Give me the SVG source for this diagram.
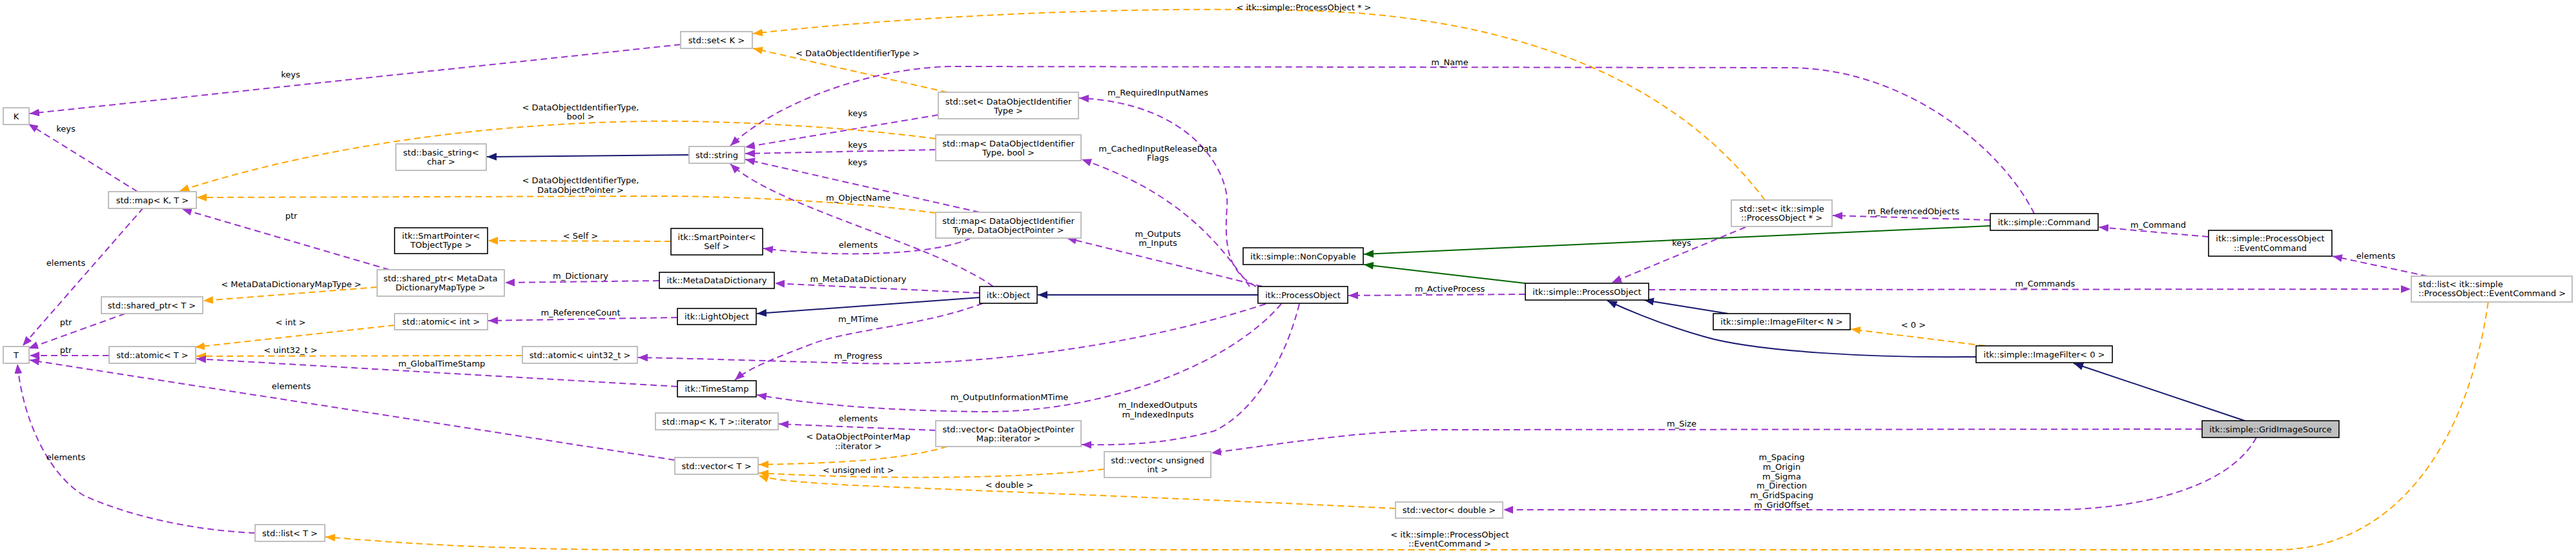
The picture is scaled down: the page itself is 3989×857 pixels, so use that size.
<svg xmlns="http://www.w3.org/2000/svg" width="3989" height="857" viewBox="0 0 3989 857">
<style>
text{font-family:"DejaVu Sans","Liberation Sans",sans-serif;font-size:13px;fill:#000;text-anchor:middle}
.g rect{fill:#fff;stroke:#bfbfbf;stroke-width:2}
.b rect{fill:#fff;stroke:#000;stroke-width:1.6}
.sel rect{fill:#bfbfbf}
.l{text-anchor:start}
#edges path{fill:none;stroke-width:2}
.p{stroke:#9a32cd;stroke-dasharray:10,6;marker-end:url(#ap)}
.o{stroke:#ffa500;stroke-dasharray:10,6;marker-end:url(#ao)}
.n{stroke:#191970;marker-end:url(#an)}
.v{stroke:#006400;marker-end:url(#ag)}
</style>
<defs>
<marker id="ap" markerUnits="userSpaceOnUse" markerWidth="16" markerHeight="12" refX="15" refY="6" orient="auto" viewBox="0 0 16 12"><path d="M0,0 L15,6 L0,12 z" fill="#9a32cd"/></marker>
<marker id="ao" markerUnits="userSpaceOnUse" markerWidth="16" markerHeight="12" refX="15" refY="6" orient="auto" viewBox="0 0 16 12"><path d="M0,0 L15,6 L0,12 z" fill="#ffa500"/></marker>
<marker id="an" markerUnits="userSpaceOnUse" markerWidth="16" markerHeight="12" refX="15" refY="6" orient="auto" viewBox="0 0 16 12"><path d="M0,0 L15,6 L0,12 z" fill="#191970"/></marker>
<marker id="ag" markerUnits="userSpaceOnUse" markerWidth="16" markerHeight="12" refX="15" refY="6" orient="auto" viewBox="0 0 16 12"><path d="M0,0 L15,6 L0,12 z" fill="#006400"/></marker>
</defs>
<rect width="3989" height="857" fill="#fff"/>
<g id="edges">
<path class="p" d="M1054,69 L46,176"/><text x="450" y="120">keys</text>
<path class="p" d="M213,297 L44,192"/><text x="102" y="204">keys</text>
<path class="p" d="M222,322 L35,536"/><text x="102" y="412">elements</text>
<path class="p" d="M603,418 L282,324"/><text x="451" y="339">ptr</text>
<path class="o" d="M584,445 L315,466"/><text x="451" y="445">&lt; MetaDataDictionaryMapType &gt;</text>
<path class="p" d="M194,486 L44,540"/><text x="102" y="504">ptr</text>
<path class="p" d="M169,551 L46,551"/><text x="102" y="547">ptr</text>
<path class="o" d="M611,504 L302,538"/><text x="450" y="504">&lt; int &gt;</text>
<path class="o" d="M809,551 L304,552"/><text x="450" y="547">&lt; uint32_t &gt;</text>
<path class="p" d="M1049,599 L304,556"/><text x="684" y="568">m_GlobalTimeStamp</text>
<path class="p" d="M1045,713 L46,558"/><text x="451" y="603">elements</text>
<path class="p" d="M395,826 C300,822 200,800 130,768 C75,735 35,650 27,564"/><text x="102" y="713">elements</text>
<path class="o" d="M3853,468 C3820,700 3700,852 3525,852 L1000,852 C750,852 600,840 504,832"/><text x="2245" y="833">&lt; itk::simple::ProcessObject</text><text x="2245" y="847">::EventCommand &gt;</text>
<path class="o" d="M1467,143 L1166,75"/><text x="1328" y="87">&lt; DataObjectIdentifierType &gt;</text>
<path class="o" d="M2733,310 C2650,200 2480,50 2100,20 C1900,8 1500,15 1166,52"/><text x="2019" y="16">&lt; itk::simple::ProcessObject * &gt;</text>
<path class="p" d="M1453,178 L1154,228"/><text x="1328" y="180">keys</text>
<path class="p" d="M1449,232 L1154,238"/><text x="1328" y="229">keys</text>
<path class="p" d="M1517,329 L1154,247"/><text x="1328" y="256">keys</text>
<path class="o" d="M1449,215 C1300,195 1100,186 1000,188 C700,192 450,240 278,296"/><text x="899" y="171">&lt; DataObjectIdentifierType,</text><text x="899" y="185">bool &gt;</text>
<path class="o" d="M1449,330 C1300,310 1100,303 1000,304 L305,306"/><text x="899" y="284">&lt; DataObjectIdentifierType,</text><text x="899" y="299">DataObjectPointer &gt;</text>
<path class="n" d="M1067,240 L754,243"/>
<path class="p" d="M1538,444 C1450,380 1200,320 1131,254"/><text x="1329" y="311">m_ObjectName</text>
<path class="p" d="M3150,331 C3100,230 2950,105 2770,105 L1480,103 C1350,103 1200,160 1131,226"/><text x="2245" y="101">m_Name</text>
<path class="p" d="M1517,454 L1200,439"/><text x="1329" y="437">m_MetaDataDictionary</text>
<path class="p" d="M1021,435 L782,438"/><text x="899" y="432">m_Dictionary</text>
<path class="o" d="M1039,374 L756,373"/><text x="899" y="370">&lt; Self &gt;</text>
<path class="p" d="M1503,369 C1450,395 1300,400 1182,385"/><text x="1329" y="384">elements</text>
<path class="n" d="M1517,461 L1172,486"/>
<path class="p" d="M1049,492 L756,497"/><text x="899" y="489">m_ReferenceCount</text>
<path class="p" d="M1522,470 C1430,505 1320,510 1260,532 C1200,555 1160,570 1138,589"/><text x="1329" y="499">m_MTime</text>
<path class="n" d="M1948,457 L1607,457"/>
<path class="p" d="M1945,444 C1900,420 1896,380 1900,320 C1905,270 1850,160 1671,152"/><text x="1793" y="148">m_RequiredInputNames</text>
<path class="p" d="M1935,444 C1890,380 1830,300 1675,247"/><text x="1793" y="235">m_CachedInputReleaseData</text><text x="1793" y="249">Flags</text>
<path class="p" d="M1955,444 L1652,369"/><text x="1793" y="367">m_Outputs</text><text x="1793" y="381">m_Inputs</text>
<path class="p" d="M1960,471 C1750,540 1500,568 1330,563 C1200,560 1100,556 988,554"/><text x="1329" y="556">m_Progress</text>
<path class="p" d="M1984,471 C1900,570 1700,640 1520,638 C1350,636 1250,625 1172,612"/><text x="1563" y="620">m_OutputInformationMTime</text>
<path class="p" d="M2012,471 C1990,560 1940,640 1880,668 C1800,690 1720,690 1675,689"/><text x="1793" y="632">m_IndexedOutputs</text><text x="1793" y="647">m_IndexedInputs</text>
<path class="p" d="M1449,667 L1206,657"/><text x="1329" y="653">elements</text>
<path class="o" d="M1467,692 C1400,712 1300,718 1175,720"/><text x="1329" y="681">&lt; DataObjectPointerMap</text><text x="1329" y="696">::iterator &gt;</text>
<path class="o" d="M1710,727 C1600,740 1400,745 1175,733"/><text x="1329" y="733">&lt; unsigned int &gt;</text>
<path class="o" d="M2161,788 C1900,775 1500,760 1320,752 C1250,748 1200,745 1175,737"/><text x="1563" y="756">&lt; double &gt;</text>
<path class="p" d="M2362,456 L2088,458"/><text x="2245" y="452">m_ActiveProcess</text>
<path class="v" d="M2362,439 L2112,410"/>
<path class="v" d="M3082,350 L2112,394"/>
<path class="p" d="M2703,352 L2496,438"/><text x="2604" y="381">keys</text>
<path class="p" d="M3082,341 L2838,334"/><text x="2963" y="332">m_ReferencedObjects</text>
<path class="p" d="M3420,367 L3250,352"/><text x="3342" y="353">m_Command</text>
<path class="p" d="M3759,428 L3612,397"/><text x="3679" y="401">elements</text>
<path class="p" d="M2553,449 L3733,448"/><text x="3167" y="444">m_Commands</text>
<path class="n" d="M2676,486 L2546,465"/>
<path class="n" d="M3060,553 C2900,555 2720,545 2640,522 C2580,505 2530,485 2489,466"/>
<path class="o" d="M3074,536 L2866,510"/><text x="2963" y="508">&lt; 0 &gt;</text>
<path class="n" d="M3476,652 L3211,563"/>
<path class="p" d="M3410,665 L2216,666 C2100,670 2000,685 1876,702"/><text x="2604" y="661">m_Size</text>
<path class="p" d="M3494,678 C3450,760 3300,790 3178,790 L2328,790"/><text x="2759" y="713">m_Spacing</text><text x="2759" y="728">m_Origin</text><text x="2759" y="743">m_Sigma</text><text x="2759" y="757">m_Direction</text><text x="2759" y="772">m_GridSpacing</text><text x="2759" y="787">m_GridOffset</text>
</g>
<g id="n_K" class="g"><rect x="5" y="167" width="40" height="26"/><text x="25" y="184.5">K</text></g>
<g id="n_mapKT" class="g"><rect x="168" y="297" width="136" height="26"/><text x="236" y="314.5">std::map&lt; K, T &gt;</text></g>
<g id="n_basicstr" class="g"><rect x="613" y="223" width="140" height="41"/><text x="683" y="240.5">std::basic_string&lt;</text><text x="683" y="254.5">char &gt;</text></g>
<g id="n_spTObj" class="b"><rect x="611" y="353" width="144" height="40"/><text x="683" y="369.5">itk::SmartPointer&lt;</text><text x="683" y="383.5">TObjectType &gt;</text></g>
<g id="n_spMD" class="g"><rect x="584" y="418" width="197" height="41"/><text x="682" y="435.5">std::shared_ptr&lt; MetaData</text><text x="682" y="449.5">DictionaryMapType &gt;</text></g>
<g id="n_spT" class="g"><rect x="157" y="460" width="157" height="26"/><text x="235" y="477.5">std::shared_ptr&lt; T &gt;</text></g>
<g id="n_atomInt" class="g"><rect x="611" y="486" width="144" height="25"/><text x="683" y="503">std::atomic&lt; int &gt;</text></g>
<g id="n_T" class="g"><rect x="5" y="537" width="40" height="26"/><text x="25" y="554.5">T</text></g>
<g id="n_atomT" class="g"><rect x="169" y="537" width="134" height="26"/><text x="236" y="554.5">std::atomic&lt; T &gt;</text></g>
<g id="n_atomU32" class="g"><rect x="809" y="537" width="178" height="26"/><text x="898" y="554.5">std::atomic&lt; uint32_t &gt;</text></g>
<g id="n_listT" class="g"><rect x="395" y="813" width="108" height="26"/><text x="449" y="830.5">std::list&lt; T &gt;</text></g>
<g id="n_setK" class="g"><rect x="1054" y="49" width="111" height="26"/><text x="1109.5" y="66.5">std::set&lt; K &gt;</text></g>
<g id="n_setDOIT" class="g"><rect x="1453" y="143" width="217" height="41"/><text x="1561.5" y="161.5">std::set&lt; DataObjectIdentifier</text><text x="1561.5" y="175.5">Type &gt;</text></g>
<g id="n_mapBool" class="g"><rect x="1449" y="209" width="225" height="40"/><text x="1561.5" y="226.5">std::map&lt; DataObjectIdentifier</text><text x="1561.5" y="240.5">Type, bool &gt;</text></g>
<g id="n_string" class="g"><rect x="1067" y="227" width="86" height="26"/><text x="1110" y="244.5">std::string</text></g>
<g id="n_mapDOP" class="g"><rect x="1449" y="329" width="225" height="40"/><text x="1561.5" y="346.5">std::map&lt; DataObjectIdentifier</text><text x="1561.5" y="360.5">Type, DataObjectPointer &gt;</text></g>
<g id="n_spSelf" class="b"><rect x="1039" y="354" width="142" height="41"/><text x="1110" y="371.5">itk::SmartPointer&lt;</text><text x="1110" y="385.5">Self &gt;</text></g>
<g id="n_MDD" class="b"><rect x="1021" y="422" width="178" height="25"/><text x="1110" y="439">itk::MetaDataDictionary</text></g>
<g id="n_Object" class="b"><rect x="1517" y="444" width="89" height="26"/><text x="1561.5" y="461.5">itk::Object</text></g>
<g id="n_Light" class="b"><rect x="1049" y="478" width="122" height="25"/><text x="1110" y="495">itk::LightObject</text></g>
<g id="n_TS" class="b"><rect x="1049" y="590" width="122" height="25"/><text x="1110" y="607">itk::TimeStamp</text></g>
<g id="n_mapIter" class="g"><rect x="1015" y="640" width="190" height="26"/><text x="1110" y="657.5">std::map&lt; K, T &gt;::iterator</text></g>
<g id="n_vecDOPM" class="g"><rect x="1449" y="652" width="225" height="40"/><text x="1561.5" y="669.5">std::vector&lt; DataObjectPointer</text><text x="1561.5" y="683.5">Map::iterator &gt;</text></g>
<g id="n_vecT" class="g"><rect x="1045" y="709" width="129" height="26"/><text x="1109.5" y="726.5">std::vector&lt; T &gt;</text></g>
<g id="n_vecU" class="g"><rect x="1710" y="700" width="165" height="40"/><text x="1792.5" y="717.5">std::vector&lt; unsigned</text><text x="1792.5" y="731.5">int &gt;</text></g>
<g id="n_setPO" class="g"><rect x="2681" y="310" width="156" height="41"/><text x="2759" y="327.5">std::set&lt; itk::simple</text><text x="2759" y="341.5">::ProcessObject * &gt;</text></g>
<g id="n_NonCopy" class="b"><rect x="1925" y="384" width="186" height="26"/><text x="2018" y="401.5">itk::simple::NonCopyable</text></g>
<g id="n_PO" class="b"><rect x="1948" y="444" width="139" height="26"/><text x="2017.5" y="461.5">itk::ProcessObject</text></g>
<g id="n_sPO" class="b"><rect x="2362" y="439" width="191" height="26"/><text x="2457.5" y="456.5">itk::simple::ProcessObject</text></g>
<g id="n_IFN" class="b"><rect x="2653" y="486" width="212" height="25"/><text x="2759" y="503">itk::simple::ImageFilter&lt; N &gt;</text></g>
<g id="n_vecD" class="g"><rect x="2161" y="778" width="166" height="25"/><text x="2244" y="795">std::vector&lt; double &gt;</text></g>
<g id="n_Cmd" class="b"><rect x="3082" y="331" width="167" height="26"/><text x="3165.5" y="348.5">itk::simple::Command</text></g>
<g id="n_EvCmd" class="b"><rect x="3420" y="357" width="191" height="40"/><text x="3515.5" y="373.5">itk::simple::ProcessObject</text><text x="3515.5" y="388.5">::EventCommand</text></g>
<g id="n_listEv" class="g"><rect x="3734" y="428" width="249" height="40"/><text class="l" x="3745" y="444.5">std::list&lt; itk::simple</text><text class="l" x="3745" y="458.5">::ProcessObject::EventCommand &gt;</text></g>
<g id="n_IF0" class="b"><rect x="3060" y="536" width="211" height="26"/><text x="3165.5" y="553.5">itk::simple::ImageFilter&lt; 0 &gt;</text></g>
<g id="n_Grid" class="b sel"><rect x="3410" y="652" width="212" height="26"/><text x="3516" y="669.5">itk::simple::GridImageSource</text></g>
</svg>
